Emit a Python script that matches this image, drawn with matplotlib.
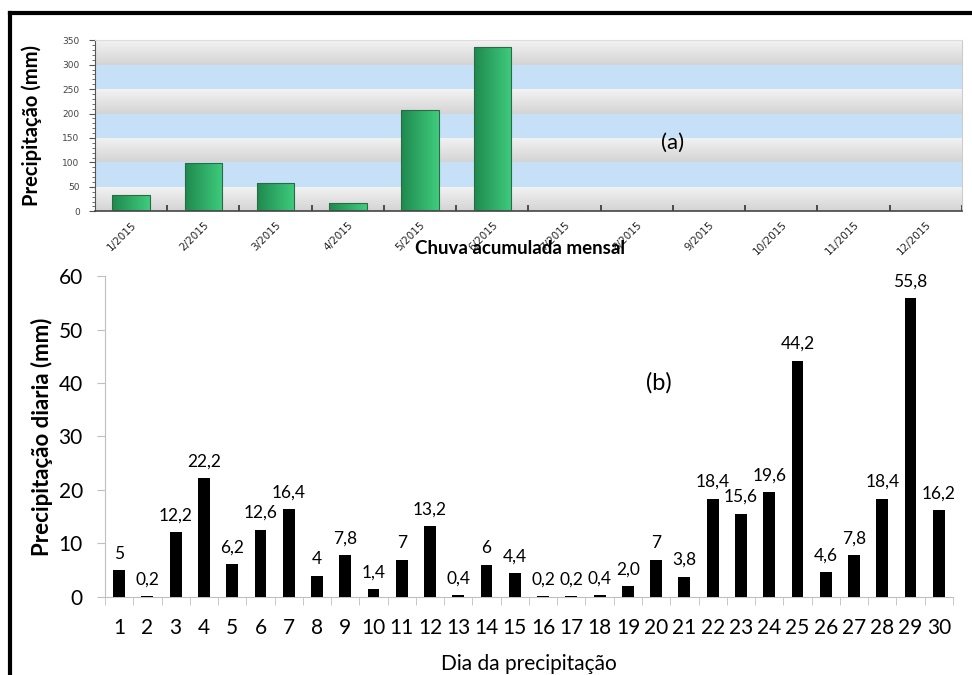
import matplotlib.pyplot as plt
import numpy as np
from matplotlib.lines import Line2D
from matplotlib.colors import LinearSegmentedColormap
from matplotlib.transforms import ScaledTranslation

plt.rcParams['font.family'] = ['Lato', 'DejaVu Sans']

# (a) monthly accumulated rain
meses = ['1/2015', '2/2015', '3/2015', '4/2015', '5/2015', '6/2015',
         '7/2015', '8/2015', '9/2015', '10/2015', '11/2015', '12/2015']
chuva_mensal = [33, 98, 58, 16, 207, 336, 0, 0, 0, 0, 0, 0]

# (b) daily rain
dias = list(range(1, 31))
chuva_diaria = [5, 0.2, 12.2, 22.2, 6.2, 12.6, 16.4, 4, 7.8, 1.4,
                7, 13.2, 0.4, 6, 4.4, 0.2, 0.2, 0.4, 2.0, 7,
                3.8, 18.4, 15.6, 19.6, 44.2, 4.6, 7.8, 18.4, 55.8, 16.2]
rotulos = ['5', '0,2', '12,2', '22,2', '6,2', '12,6', '16,4', '4', '7,8', '1,4',
           '7', '13,2', '0,4', '6', '4,4', '0,2', '0,2', '0,4', '2,0', '7',
           '3,8', '18,4', '15,6', '19,6', '44,2', '4,6', '7,8', '18,4', '55,8', '16,2']

fig = plt.figure(figsize=(9.72, 6.75), dpi=100)

# ---------- top chart ----------
ax1 = fig.add_axes([0.0977, 0.687, 0.892, 0.2533])

cinza = LinearSegmentedColormap.from_list('cz', ['#d4d4d4', '#f3f3f3'])
grad = np.linspace(0, 1, 50).reshape(-1, 1)
for k in range(7):
    lo, hi = 50 * k, 50 * (k + 1)
    if k % 2 == 0:
        ax1.imshow(grad, extent=(-0.5, 11.5, lo, hi), origin='lower', cmap=cinza,
                   aspect='auto', zorder=0)
    else:
        ax1.axhspan(lo, hi, color='#c6e0f8', lw=0, zorder=0)

verde = LinearSegmentedColormap.from_list('vd', ['#1f8a4e', '#3fcb7d'])
bars = ax1.bar(range(12), chuva_mensal, width=0.52, color='none',
               edgecolor='#2a6b45', lw=0.8, zorder=3)
hgrad = np.linspace(0, 1, 50).reshape(1, -1)
for b in bars:
    if b.get_height() <= 0:
        continue
    x0 = b.get_x()
    im = ax1.imshow(hgrad, extent=(x0, x0 + b.get_width(), 0, b.get_height()),
                    cmap=verde, aspect='auto', zorder=2)
    im.set_clip_path(b)
ax1.set_xlim(-0.5, 11.5)
ax1.set_ylim(0, 350)

ax1.set_xticks(range(12))
ax1.set_xticklabels(meses, rotation=45, ha='right', rotation_mode='anchor',
                    fontsize=7.5, color='#222222', family='DejaVu Sans')
desloc = ScaledTranslation(-3 / 72, 0, fig.dpi_scale_trans)
for lbl in ax1.get_xticklabels():
    lbl.set_transform(lbl.get_transform() + desloc)
ax1.tick_params(axis='x', length=0, pad=6)
ax1.set_xticks(np.arange(0.5, 11.6, 1), minor=True)
ax1.tick_params(axis='x', which='minor', direction='in', length=4,
                color='#333333', width=1.2)
ax1.set_yticks(range(0, 351, 50))
ax1.set_yticks(range(0, 351, 10), minor=True)
ax1.tick_params(axis='y', labelsize=6.5, labelcolor='#444444', length=4,
                color='#555555', pad=7)
ax1.tick_params(axis='y', which='minor', length=2, color='#555555')
for lbl in ax1.get_yticklabels():
    lbl.set_family('DejaVu Sans')
ax1.spines['left'].set_color('#555555')
ax1.spines['bottom'].set_color('#444444')
ax1.spines['bottom'].set_linewidth(1.2)
ax1.spines['top'].set_color('#dddddd')
ax1.spines['right'].set_color('#cccccc')
ax1.set_ylabel('Precipitação (mm)', fontsize=14.5, fontweight='bold', labelpad=15)
ax1.text(7.5, 140, '(a)', fontsize=16, ha='center', va='center')

fig.text(0.535, 0.632, 'Chuva acumulada mensal', fontsize=13.5, fontweight='bold',
         ha='center', va='center')

# ---------- bottom chart ----------
ax2 = fig.add_axes([0.108, 0.1156, 0.8724, 0.4755])
ax2.bar(dias, chuva_diaria, width=0.42, color='black', zorder=3)
for d, v, r in zip(dias, chuva_diaria, rotulos):
    ax2.text(d, v + 1.6, r, ha='center', va='bottom', fontsize=12.5)
ax2.set_xlim(0.5, 30.5)
ax2.set_ylim(0, 60)
ax2.set_yticks(range(0, 61, 10))
ax2.set_xticks(dias)
ax2.set_xticks(np.arange(0.5, 30.6, 1), minor=True)
ax2.tick_params(axis='x', which='major', length=0, labelsize=15, pad=15)
ax2.tick_params(axis='x', which='minor', length=6, color='#bfbfbf')
ax2.tick_params(axis='y', labelsize=15, length=6, color='#bfbfbf', pad=10)
for s in ['top', 'right']:
    ax2.spines[s].set_visible(False)
for s in ['left', 'bottom']:
    ax2.spines[s].set_color('#bfbfbf')
ax2.set_ylabel('Precipitação diaria (mm)', fontsize=16, fontweight='bold', labelpad=4)
ax2.set_xlabel('Dia da precipitação', fontsize=15, labelpad=12)
ax2.text(20.1, 40, '(b)', fontsize=17, ha='center', va='center')

# frame lines (top and left)
fig.add_artist(Line2D([0.0105, 1.0], [0.9807, 0.9807], color='black', lw=3,
                      transform=fig.transFigure))
fig.add_artist(Line2D([0.0105, 0.0105], [0.0, 0.9807], color='black', lw=3,
                      transform=fig.transFigure))

fig.savefig('out.png', dpi=100)
